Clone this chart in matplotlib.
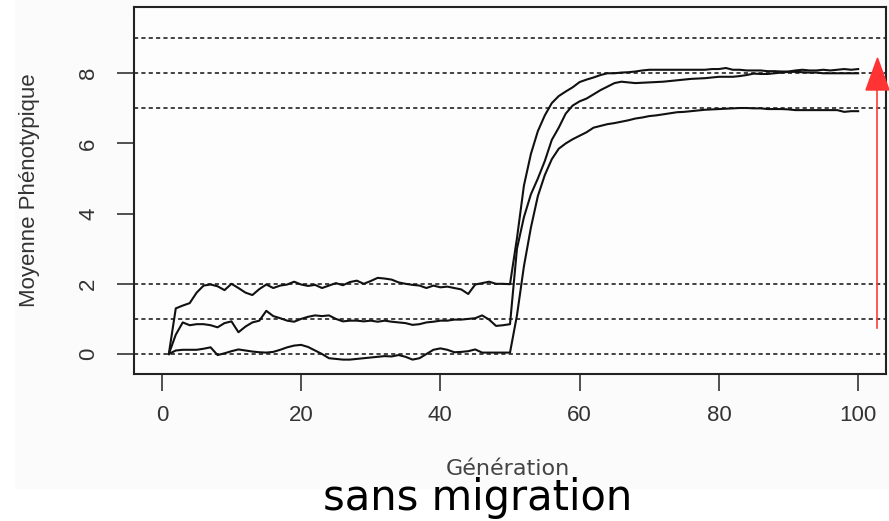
import numpy as np
import matplotlib.pyplot as plt
from matplotlib.lines import Line2D
from matplotlib.patches import Polygon, Rectangle

plt.rcParams['font.family'] = ['Liberation Sans', 'DejaVu Sans']

# generations 1..100
generations = np.arange(1, 101)

# moyenne phenotypique, population partie vers 2 puis 8
ligne_haut = [0.00, 1.30, 1.38, 1.45, 1.75, 1.95, 1.98, 1.93, 1.82, 2.00,
              1.88, 1.75, 1.68, 1.85, 1.98, 1.88, 1.95, 1.98, 2.06, 1.98,
              1.94, 1.97, 1.88, 1.95, 2.02, 1.96, 2.05, 2.09, 2.00, 2.08,
              2.17, 2.15, 2.12, 2.04, 2.00, 1.97, 1.95, 1.88, 1.95, 1.90,
              1.92, 1.88, 1.84, 1.71, 1.98, 2.02, 2.06, 2.00, 2.00, 1.99,
              3.30, 4.80, 5.70, 6.35, 6.80, 7.15, 7.35, 7.48, 7.60, 7.75,
              7.82, 7.88, 7.95, 8.00, 8.00, 8.02, 8.03, 8.05, 8.08, 8.10,
              8.10, 8.10, 8.10, 8.10, 8.10, 8.10, 8.10, 8.10, 8.12, 8.12,
              8.15, 8.10, 8.10, 8.08, 8.08, 8.08, 8.06, 8.06, 8.05, 8.05,
              8.08, 8.10, 8.08, 8.08, 8.10, 8.08, 8.10, 8.12, 8.10, 8.12]

# population partie vers 1 puis ~8
ligne_milieu = [0.00, 0.55, 0.90, 0.82, 0.85, 0.85, 0.82, 0.76, 0.88, 0.93,
                0.62, 0.78, 0.90, 0.95, 1.23, 1.08, 1.02, 0.95, 0.92, 1.00,
                1.06, 1.10, 1.08, 1.10, 1.00, 0.93, 0.95, 0.95, 0.93, 0.95,
                0.92, 0.95, 0.92, 0.90, 0.88, 0.83, 0.85, 0.90, 0.92, 0.95,
                0.95, 0.98, 0.98, 1.00, 1.02, 1.10, 0.98, 0.80, 0.82, 0.85,
                3.00, 3.90, 4.55, 5.00, 5.50, 6.10, 6.45, 6.85, 7.08, 7.20,
                7.28, 7.40, 7.52, 7.62, 7.72, 7.76, 7.74, 7.72, 7.73, 7.74,
                7.75, 7.76, 7.78, 7.80, 7.82, 7.84, 7.85, 7.86, 7.88, 7.90,
                7.90, 7.90, 7.92, 7.95, 7.99, 7.98, 7.98, 8.00, 8.02, 8.04,
                8.04, 8.03, 8.02, 8.02, 8.00, 8.00, 8.00, 8.00, 8.00, 8.00]

# population partie vers 0 puis 7
ligne_bas = [0.00, 0.10, 0.12, 0.12, 0.12, 0.15, 0.19, -0.03, 0.02, 0.08,
             0.13, 0.10, 0.07, 0.05, 0.04, 0.06, 0.12, 0.19, 0.24, 0.26,
             0.20, 0.10, 0.00, -0.12, -0.14, -0.16, -0.16, -0.14, -0.12, -0.10,
             -0.08, -0.06, -0.07, -0.03, -0.08, -0.16, -0.12, 0.00, 0.12, 0.16,
             0.12, 0.05, 0.06, 0.08, 0.13, 0.04, 0.04, 0.04, 0.04, 0.04,
             1.10, 2.50, 3.60, 4.50, 5.10, 5.55, 5.85, 6.00, 6.12, 6.22,
             6.32, 6.45, 6.50, 6.55, 6.58, 6.62, 6.66, 6.71, 6.74, 6.78,
             6.80, 6.83, 6.86, 6.89, 6.90, 6.92, 6.94, 6.96, 6.97, 6.98,
             6.99, 7.00, 7.01, 7.01, 7.00, 7.00, 6.98, 6.98, 6.98, 6.97,
             6.95, 6.95, 6.95, 6.95, 6.95, 6.95, 6.95, 6.90, 6.92, 6.92]

# optimums (lignes pointillees)
optimums = [0, 1, 2, 7, 8, 9]

x_ticks = [0, 20, 40, 60, 80, 100]
y_ticks = [0, 2, 4, 6, 8]

W, H = 889, 521
fig = plt.figure(figsize=(W / 100, H / 100), dpi=100)
fig.patch.set_facecolor('white')

# fond tres legerement gris de l'image R
fig.patches.append(Rectangle((15 / W, 1 - 488 / H), 1 - 15 / W, 488 / H,
                             transform=fig.transFigure, color='#fbfbfb', zorder=-1))

ax = fig.add_axes([134 / W, 1 - 374 / H, (886 - 134) / W, (374 - 7.3) / H])
ax.set_facecolor('#fdfdfd')

for h in optimums:
    ax.axhline(h, color='#1a1a1a', lw=1.15, ls=(0, (2.6, 2.0)))

ax.plot(generations, ligne_haut, color='#111111', lw=1.5)
ax.plot(generations, ligne_milieu, color='#111111', lw=1.5)
ax.plot(generations, ligne_bas, color='#111111', lw=1.5)

ax.set_xlim(-4, 104)
ax.set_ylim(-0.57, 9.88)
ax.set_xticks(x_ticks)
ax.set_yticks(y_ticks)
ax.tick_params(direction='out', length=12, width=1.2, labelsize=16,
               colors='#333333')
ax.tick_params(axis='x', pad=10)
ax.tick_params(axis='y', pad=13, labelrotation=90)
for lab in ax.get_yticklabels():
    lab.set_verticalalignment('center')

for s in ax.spines.values():
    s.set_color('#222222')
    s.set_linewidth(1.5)

fig.text(30 / W, 1 - 190.6 / H, 'Moyenne Phénotypique', rotation=90,
         ha='center', va='center', fontsize=16, color='#333333')
fig.text(508 / W, 1 - 469 / H, 'Génération', ha='center', va='center',
         fontsize=16, color='#444444', family='DejaVu Sans')
fig.text(477.5 / W, 1 - 510 / H, 'sans migration', ha='center', va='baseline',
         fontsize=30, color='black', family='DejaVu Sans')

# fleche rouge ajoutee sur le graphique
fig.add_artist(Line2D([877 / W, 877 / W], [1 - 328 / H, 1 - 90 / H],
                      color='#ff3b3b', lw=1.2, zorder=5))
fig.add_artist(Polygon([(866 / W, 1 - 90 / H), (889 / W, 1 - 90 / H),
                        (877.5 / W, 1 - 58 / H)], closed=True,
                       transform=fig.transFigure, color='#ff3333', zorder=6))

plt.savefig('out.png', dpi=100)
